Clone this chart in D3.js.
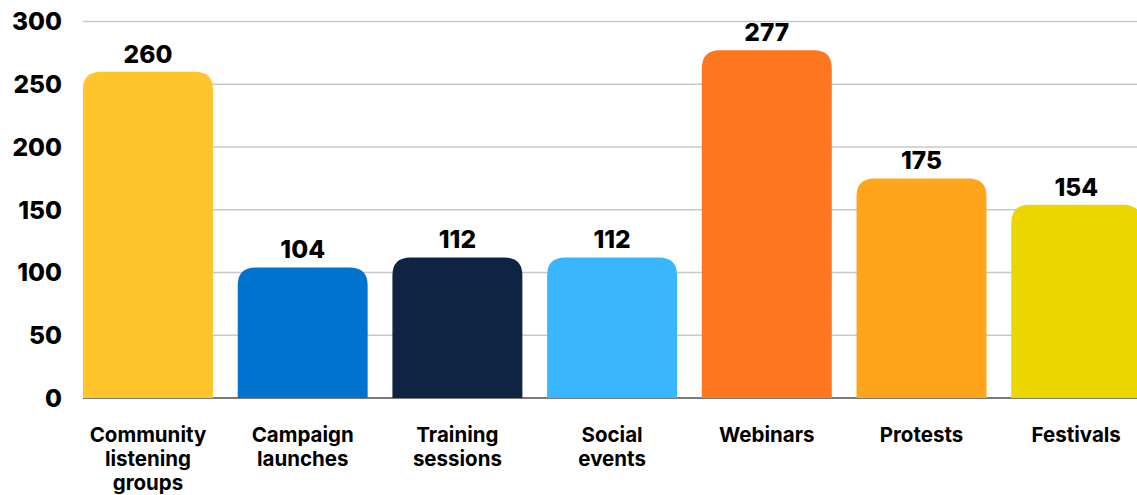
<!DOCTYPE html>
<html>
<head>
<meta charset="utf-8">
<script src="https://cdn.jsdelivr.net/npm/d3@7.9.0/dist/d3.min.js"></script>
<style>
  body { margin: 0; background: #fff; }
  svg { display: block; font-family: Inter, "Open Sans", sans-serif; }
</style>
</head>
<body>
<div id="chart"></div>
<script>
// chart data
const categories = [
  ["Community", "listening", "groups"],
  ["Campaign", "launches"],
  ["Training", "sessions"],
  ["Social", "events"],
  ["Webinars"],
  ["Protests"],
  ["Festivals"]
];
const values = [260, 104, 112, 112, 277, 175, 154];
const barColors = ["#FFC52B", "#0073CF", "#0F2442", "#3AB6FF", "#FF7620", "#FFA51B", "#ECD600"];
const yTicks = [0, 50, 100, 150, 200, 250, 300];

const width = 1137;
const height = 495;
const left = 83;
const baseY = 398;
const topY = 21.5;
const radius = 18;

const svg = d3.select("#chart").append("svg")
  .attr("width", width)
  .attr("height", height);

const x = d3.scaleBand()
  .domain(d3.range(values.length))
  .range([left, left + 7 * 130 + 6 * 24.7])
  .paddingInner(0.16)
  .paddingOuter(0);

const y = d3.scaleLinear()
  .domain([0, 300])
  .range([baseY, topY]);

// gridlines
svg.append("g")
  .selectAll("line")
  .data(yTicks.filter(d => d > 0))
  .join("line")
  .attr("x1", left)
  .attr("x2", width)
  .attr("y1", d => y(d))
  .attr("y2", d => y(d))
  .attr("stroke", "#c8c8c8")
  .attr("stroke-width", 1.5);

svg.append("line")
  .attr("x1", left)
  .attr("x2", width)
  .attr("y1", y(0))
  .attr("y2", y(0))
  .attr("stroke", "#7a7a7a")
  .attr("stroke-width", 2);

// y tick labels
svg.append("g")
  .selectAll("text")
  .data(yTicks)
  .join("text")
  .attr("x", 62)
  .attr("y", d => y(d))
  .attr("dy", "0.36em")
  .attr("text-anchor", "end")
  .attr("font-size", 24.5)
  .attr("font-weight", 800)
  .attr("fill", "#000")
  .text(d => d);

// bars with rounded top corners
function barPath(x0, w, yTop, yBot, r) {
  r = Math.min(r, (yBot - yTop), w / 2);
  return `M${x0},${yBot}V${yTop + r}Q${x0},${yTop} ${x0 + r},${yTop}` +
    `H${x0 + w - r}Q${x0 + w},${yTop} ${x0 + w},${yTop + r}V${yBot}Z`;
}

svg.append("g")
  .selectAll("path")
  .data(values)
  .join("path")
  .attr("d", (d, i) => barPath(x(i), x.bandwidth(), y(d), y(0), radius))
  .attr("fill", (d, i) => barColors[i]);

// value labels
svg.append("g")
  .selectAll("text")
  .data(values)
  .join("text")
  .attr("x", (d, i) => x(i) + x.bandwidth() / 2)
  .attr("y", d => y(d) - 9)
  .attr("text-anchor", "middle")
  .attr("font-size", 24.5)
  .attr("font-weight", 800)
  .attr("fill", "#000")
  .text(d => d);

// category labels
const catG = svg.append("g")
  .selectAll("text")
  .data(categories)
  .join("text")
  .attr("x", (d, i) => x(i) + x.bandwidth() / 2)
  .attr("y", 442)
  .attr("text-anchor", "middle")
  .attr("font-size", 20.5)
  .attr("font-weight", 700)
  .attr("fill", "#000");

catG.selectAll("tspan")
  .data(d => d)
  .join("tspan")
  .attr("x", function () { return d3.select(this.parentNode).attr("x"); })
  .attr("dy", (d, i) => i === 0 ? 0 : 24)
  .text(d => d);
</script>
</body>
</html>
